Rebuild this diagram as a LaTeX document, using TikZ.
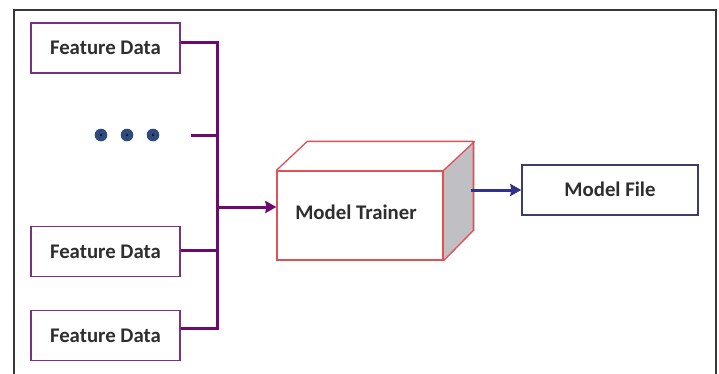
\documentclass[tikz,border=0pt]{standalone}
\usepackage{fontspec}
\setmainfont{Carlito}
\usetikzlibrary{arrows.meta}
\definecolor{boxpurple}{RGB}{120,50,130}
\definecolor{buspurple}{RGB}{110,10,110}
\definecolor{cubered}{RGB}{225,80,85}
\definecolor{cubegrey}{RGB}{192,192,196}
\definecolor{dotblue}{RGB}{45,75,125}
\definecolor{fileblue}{RGB}{60,60,110}
\definecolor{arrblue}{RGB}{50,50,140}
\definecolor{framegrey}{RGB}{55,55,55}
\tikzset{
  txt/.style={font=\fontsize{20.8}{24}\selectfont\bfseries, text=black!82},
  fdbox/.style={txt, draw=boxpurple, line width=1.5pt, minimum width=149pt, minimum height=50pt, inner sep=0pt},
  filebox/.style={txt, draw=fileblue, line width=1.5pt, minimum width=176pt, minimum height=50pt, inner sep=0pt},
  cubefront/.style={txt, draw=cubered, line width=1.3pt, fill=white, minimum width=166pt, minimum height=89pt, inner sep=0pt},
  bus/.style={draw=buspurple, line width=3pt},
  busarrow/.style={bus, -{Stealth[length=11pt,width=12pt,inset=1pt]}},
  outarrow/.style={draw=arrblue, line width=3pt, -{Stealth[length=11pt,width=12pt,inset=1pt]}},
  dotmark/.style={fill=dotblue, draw=none}
}
\begin{document}
\begin{tikzpicture}[x=1pt,y=-1pt]
\useasboundingbox (0,0) rectangle (719,373);
\fill[white] (0,0) rectangle (719,373);
\draw[framegrey, line width=2pt] (14,374) -- (14,10) -- (716,10) -- (716,374);

% feature boxes
\node[fdbox] (fd1) at (105.5,48) {Feature Data};
\node[fdbox] (fd2) at (105.5,251.5) {Feature Data};
\node[fdbox] (fd3) at (105.5,335.5) {Feature Data};

% dots
\foreach \x/\n in {101/d1,127/d2,153/d3}{
  \fill[dotmark] (\x,135) circle (6.3pt);
  \fill[black!70!dotblue] (\x,135) circle (1.3pt);
}

% bus coordinates
\coordinate (b1) at (217,42);
\coordinate (bd) at (217,135);
\coordinate (dl) at (191,135);
\coordinate (bj) at (217,207);
\coordinate (b2) at (217,250);
\coordinate (b3) at (217,328);

% cube
\node[cubefront] (trainer) at (360,215.5) {};
\fill[cubegrey] (trainer.north east) -- ++(31,-29) -- ++(0,89) -- (trainer.south east) -- cycle;
\draw[cubered, line width=1.3pt, line join=round]
  (trainer.north west) -- ++(31,-29) -- ++(166,0) -- ++(0,89) -- (trainer.south east)
  (trainer.north east) -- ++(31,-29);
\node[cubefront] at (trainer) {};
\node[txt] (trainertext) at ([xshift=-4pt,yshift=3pt]trainer.center) {Model Trainer};

% model file
\node[filebox] (mf) at (610,190) {\raisebox{2pt}{Model File}};
\coordinate (os) at (471,190);

% connectors
\draw[bus] (fd1.east |- b1) -- (b1) -- (b3) -- (fd3.east |- b3);
\draw[bus] (fd2.east |- b2) -- (b2);
\draw[bus] (dl) -- (bd);
\draw[busarrow] (bj) -- (trainer.west |- bj);
\draw[outarrow] (os) -- (mf.west);
\end{tikzpicture}
\end{document}
